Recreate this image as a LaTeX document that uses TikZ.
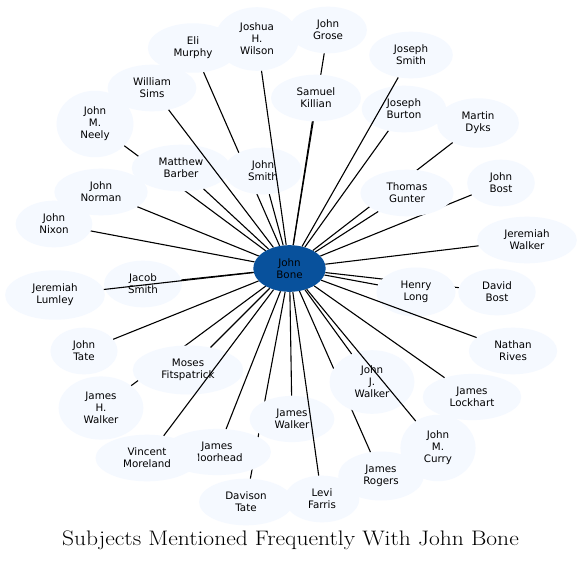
\documentclass[tikz,border=0pt]{standalone}
\usepackage{fontspec}
\newfontfamily\subjfont{DejaVu Sans}
\newfontfamily\titlefont[FakeStretch=1.12]{Latin Modern Roman}
\usetikzlibrary{shapes.geometric}
\definecolor{subjfill}{RGB}{245,249,255}
\definecolor{bonefill}{RGB}{8,81,156}
\tikzset{
 subj/.style={ellipse, fill=subjfill, align=center, font=\subjfont\fontsize{10.3}{12}\selectfont, inner xsep=12.5pt, inner ysep=6.5pt},
 link/.style={black, line width=1.1pt}
}

\begin{document}
\begin{tikzpicture} [x=1pt,y=-1pt]
\useasboundingbox[fill=white] (0,0) rectangle (582,563);
\node[subj, fill=bonefill] (bone) at (289.5,268.5) {John\\Bone};
\foreach \n/\x/\y/\t in {
 neely/95/124/{John\\M.\\Neely}, barber/181/168/{Matthew\\Barber}, sims/152/88/{William\\Sims},
 grose/328/30/{John\\Grose}, killian/316/98/{Samuel\\Killian}, dyks/478/123/{Martin\\Dyks},
 jbost/501/183/{John\\Bost}, gunter/407/193/{Thomas\\Gunter}, dbost/497/292/{David\\Bost},
 long/416/292/{Henry\\Long}, jhwalker/101/408/{James\\H.\\Walker}, moses/188/370/{Moses\\Fitspatrick},
 rogers/381/476/{James\\Rogers}, jjwalker/372/382/{John\\J.\\Walker}, curry/438/448/{John\\M.\\Curry},
 dtate/246/502/{Davison\\Tate}, jwalker/292/419/{James\\Walker}, moorhead/217/452/{James\\Moorhead},
 vincent/147/458/{Vincent\\Moreland}, levi/322/499/{Levi\\Farris}, eli/193/48/{Eli\\Murphy},
 jsmith/263/171/{John\\Smith}, joshua/257/39/{Joshua\\H.\\Wilson}, burton/404/109/{Joseph\\Burton},
 josmith/411/55/{Joseph\\Smith}, jacob/143/284/{Jacob\\Smith}, lumley/55/295/{Jeremiah\\Lumley},
 norman/101/192/{John\\Norman}, nixon/54/224/{John\\Nixon}, jtate/84/351/{John\\Tate},
 jerwalker/527/240/{Jeremiah\\Walker}, rives/513/351/{Nathan\\Rives}, lockhart/472/397/{James\\Lockhart}} {
 \node[subj] (\n) at (\x,\y) {\t};
 \draw[link] (bone) -- (\n);
}
\node (title) at (290.5,540.5) {\titlefont\fontsize{21}{25}\selectfont Subjects Mentioned Frequently With John Bone};
\end{tikzpicture}
\end{document}
